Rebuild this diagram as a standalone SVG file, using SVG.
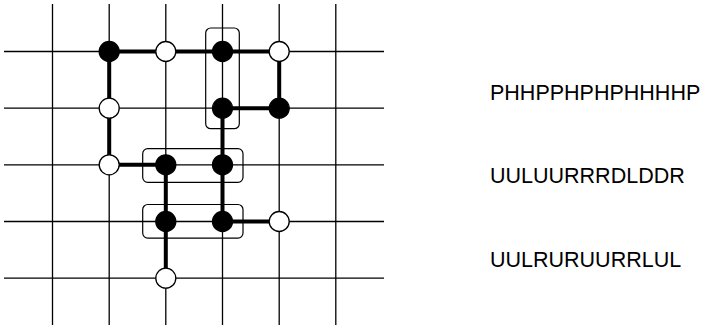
<svg xmlns="http://www.w3.org/2000/svg" width="708" height="326" viewBox="0 0 708 326">
<style>
.grid line{stroke:#000;stroke-width:1.3}
.bond{stroke:#000;stroke-width:4;fill:none}
.H{fill:#000;stroke:#000;stroke-width:1.3}
.P{fill:#fff;stroke:#000;stroke-width:1.3}
.box{fill:none;stroke:#000;stroke-width:1.2}
.lbl{font-family:"Liberation Sans",Arial,sans-serif;font-size:21.5px;fill:#000}
</style>
<rect width="708" height="326" fill="#fff"/>
<g id="grid" class="grid">
<line x1="52.5" y1="4" x2="52.5" y2="325"/>
<line x1="109.2" y1="4" x2="109.2" y2="325"/>
<line x1="165.8" y1="4" x2="165.8" y2="325"/>
<line x1="222.5" y1="4" x2="222.5" y2="325"/>
<line x1="279.2" y1="4" x2="279.2" y2="325"/>
<line x1="335.8" y1="4" x2="335.8" y2="325"/>
<line x1="4" y1="51.5" x2="384" y2="51.5"/>
<line x1="4" y1="108.2" x2="384" y2="108.2"/>
<line x1="4" y1="164.8" x2="384" y2="164.8"/>
<line x1="4" y1="221.5" x2="384" y2="221.5"/>
<line x1="4" y1="278.2" x2="384" y2="278.2"/>
</g>
<g id="connectors">
<polyline class="bond" points="165.8,278.2 165.8,221.5 165.8,164.8 109.2,164.8 109.2,108.2 109.2,51.5 165.8,51.5 222.5,51.5 279.2,51.5 279.2,108.2 222.5,108.2 222.5,164.8 222.5,221.5 279.2,221.5"/>
</g>
<g id="boxes">
<rect id="box1" class="box" x="205.7" y="28" width="33.6" height="100.7" rx="5"/>
<rect id="box2" class="box" x="142.7" y="148.7" width="100.3" height="33.6" rx="5"/>
<rect id="box3" class="box" x="142.7" y="204.5" width="100.3" height="33.6" rx="5"/>
</g>
<g id="nodes">
<g id="n1"><circle class="P" cx="165.8" cy="278.2" r="10"/></g>
<g id="n2"><circle class="H" cx="165.8" cy="221.5" r="10"/></g>
<g id="n3"><circle class="H" cx="165.8" cy="164.8" r="10"/></g>
<g id="n4"><circle class="P" cx="109.2" cy="164.8" r="10"/></g>
<g id="n5"><circle class="P" cx="109.2" cy="108.2" r="10"/></g>
<g id="n6"><circle class="H" cx="109.2" cy="51.5" r="10"/></g>
<g id="n7"><circle class="P" cx="165.8" cy="51.5" r="10"/></g>
<g id="n8"><circle class="H" cx="222.5" cy="51.5" r="10"/></g>
<g id="n9"><circle class="P" cx="279.2" cy="51.5" r="10"/></g>
<g id="n10"><circle class="H" cx="279.2" cy="108.2" r="10"/></g>
<g id="n11"><circle class="H" cx="222.5" cy="108.2" r="10"/></g>
<g id="n12"><circle class="H" cx="222.5" cy="164.8" r="10"/></g>
<g id="n13"><circle class="H" cx="222.5" cy="221.5" r="10"/></g>
<g id="n14"><circle class="P" cx="279.2" cy="221.5" r="10"/></g>
</g>
<g id="labels">
<text class="lbl" x="490" y="100">PHHPPHPHPHHHHP</text>
<text class="lbl" x="490" y="183">UULUURRRDLDDR</text>
<text class="lbl" x="490" y="266.5">UULRURUURRLUL</text>
</g>
</svg>
